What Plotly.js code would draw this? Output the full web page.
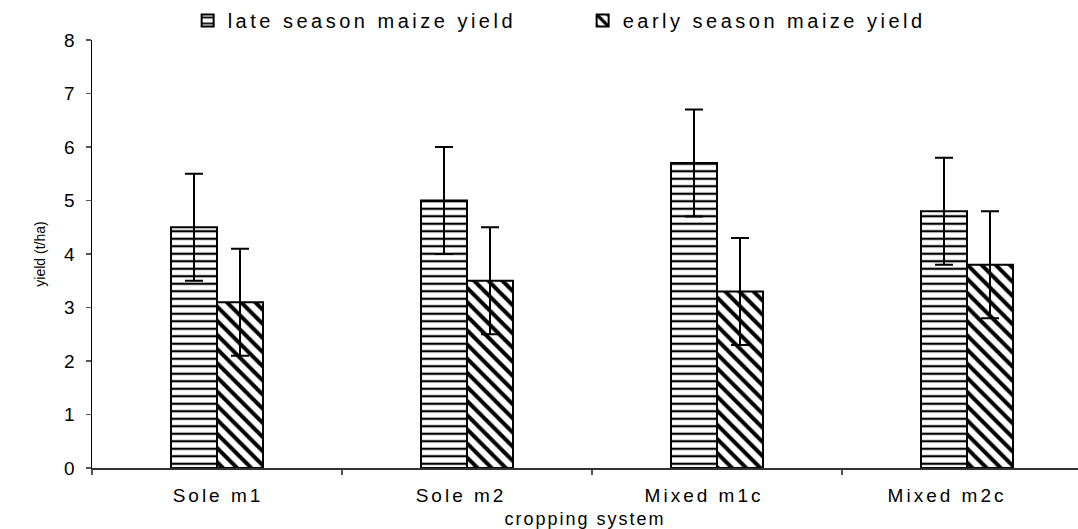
<!DOCTYPE html>
<html>
<head>
<meta charset="utf-8">
<script src="https://cdn.plot.ly/plotly-3.0.1.min.js"></script>
<style>
html,body{margin:0;padding:0;background:#fff;}
#chart{width:1078px;height:529px;}
#chart .x2tick text {letter-spacing: 3px;}
#chart .g-xtitle text {letter-spacing: 2px;}
#chart .legendtext {letter-spacing: 3.5px;}
</style>
</head>
<body>
<div id="chart"></div>
<script>
const categories = ["Sole m1", "Sole m2", "Mixed m1c", "Mixed m2c"];
const lateYield = [4.5, 5.0, 5.7, 4.8];
const lateError = [1.0, 1.0, 1.0, 1.0];
const earlyYield = [3.1, 3.5, 3.3, 3.8];
const earlyError = [1.0, 1.0, 1.0, 1.0];
const yTicks = [0, 1, 2, 3, 4, 5, 6, 7, 8];

const font = "Liberation Sans, Arial, sans-serif";
const categoryIndex = categories.map((c, i) => i);

const traces = [
  {
    type: "bar", name: "late season maize yield", x: categories, y: lateYield,
    marker: {color: "#ffffff", line: {color: "#000000", width: 2},
      pattern: {shape: "-", fgcolor: "#000000", bgcolor: "#ffffff", size: 7.5, solidity: 0.3}},
    error_y: {type: "data", array: lateError, visible: true, color: "#000000", thickness: 2, width: 9}
  },
  {
    type: "bar", name: "early season maize yield", x: categories, y: earlyYield,
    marker: {color: "#ffffff", line: {color: "#000000", width: 2},
      pattern: {shape: "\\", fgcolor: "#000000", bgcolor: "#ffffff", size: 10, solidity: 0.4}},
    error_y: {type: "data", array: earlyError, visible: true, color: "#000000", thickness: 2, width: 9}
  },
  {
    // carrier for the category-label axis only; draws nothing
    type: "scatter", mode: "none", x: categoryIndex, y: lateYield,
    xaxis: "x2", yaxis: "y", showlegend: false, hoverinfo: "skip"
  }
];

const layout = {
  width: 1078, height: 529,
  margin: {l: 92, r: 0, t: 40, b: 61},
  paper_bgcolor: "#ffffff", plot_bgcolor: "#ffffff",
  font: {family: font, size: 16, color: "#000000"},
  barmode: "group", bargap: 0.632, bargroupgap: 0,
  showlegend: true,
  legend: {orientation: "h", x: 0.097, xanchor: "left", y: 1.0, yanchor: "bottom",
    font: {family: font, size: 20, color: "#000000"}, entrywidth: 350, itemwidth: 30,
    bgcolor: "rgba(0,0,0,0)"},
  xaxis: {
    type: "category", range: [-0.5, 3.444], tickson: "boundaries",
    ticks: "outside", ticklen: 5, tickcolor: "#555555", tickwidth: 1.5,
    showline: true, linecolor: "#333333", linewidth: 1.5, showgrid: false, zeroline: false,
    showticklabels: false,
    title: {text: "cropping system", font: {family: font, size: 18, color: "#000000"}, standoff: 44}
  },
  xaxis2: {
    overlaying: "x", side: "bottom", anchor: "y", range: [-0.5185, 3.539],
    tickmode: "array", tickvals: categoryIndex, ticktext: categories,
    ticks: "", showline: false, showgrid: false, zeroline: false,
    tickfont: {family: font, size: 19, color: "#000000"}, ticklabelstandoff: 14
  },
  yaxis: {
    range: [0, 8], tickvals: yTicks, ticktext: yTicks.map(String),
    ticks: "outside", ticklen: 5, tickcolor: "#555555", tickwidth: 1.5,
    showline: true, linecolor: "#000000", linewidth: 1.5, showgrid: false, zeroline: false,
    tickfont: {family: font, size: 19, color: "#000000"}, ticklabelstandoff: 7,
    title: {text: "yield (t/ha)", font: {family: font, size: 14, color: "#000000"}, standoff: 15}
  }
};

Plotly.newPlot("chart", traces, layout, {displayModeBar: false, staticPlot: true});
</script>
</body>
</html>
